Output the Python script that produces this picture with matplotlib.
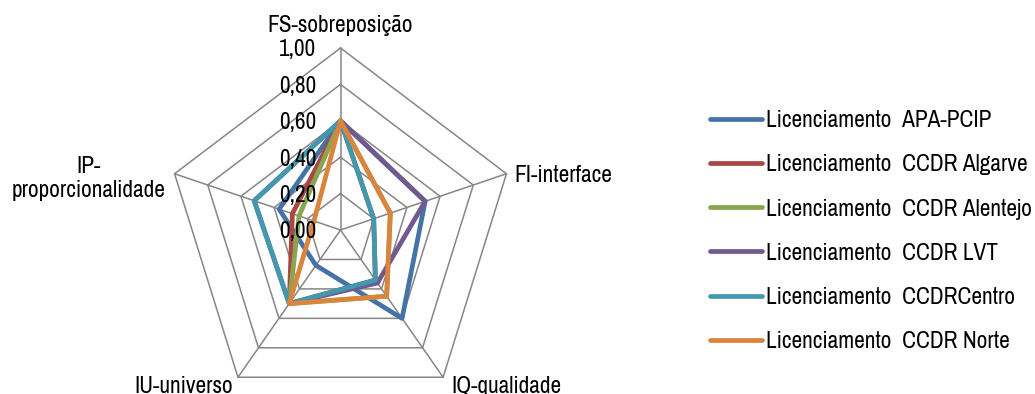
import matplotlib
matplotlib.use('Agg')
import matplotlib.pyplot as plt
from matplotlib import font_manager
import numpy as np

# Radar chart of licensing indicators (scale 0-1)
categories = ['FS-sobreposição', 'FI-interface', 'IQ-qualidade', 'IU-universo', 'IP-\nproporcionalidade']
series_names = ['Licenciamento  APA-PCIP', 'Licenciamento  CCDR Algarve', 'Licenciamento  CCDR Alentejo',
                'Licenciamento  CCDR LVT', 'Licenciamento  CCDRCentro', 'Licenciamento  CCDR Norte']
apa_pcip = [0.60, 0.51, 0.60, 0.24, 0.37]
ccdr_algarve = [0.60, 0.20, 0.34, 0.50, 0.29]
ccdr_alentejo = [0.60, 0.30, 0.45, 0.50, 0.25]
ccdr_lvt = [0.60, 0.51, 0.36, 0.50, 0.52]
ccdr_centro = [0.60, 0.20, 0.34, 0.50, 0.52]
ccdr_norte = [0.60, 0.30, 0.45, 0.50, 0.16]
scale_levels = [0.0, 0.2, 0.4, 0.6, 0.8, 1.0]
scale_labels = ['0,00', '0,20', '0,40', '0,60', '0,80', '1,00']

all_series = [apa_pcip, ccdr_algarve, ccdr_alentejo, ccdr_lvt, ccdr_centro, ccdr_norte]
colors = ['#4572A7', '#AA4643', '#89A54E', '#71588F', '#4198AF', '#DB843D']
grid_color = '#868686'

# narrow sans-serif, falling back to the regular one
installed = {f.name for f in font_manager.fontManager.ttflist}
narrow = [f for f in ['Liberation Sans Narrow', 'Arial Narrow', 'Archivo Narrow', 'Roboto Condensed']
          if f in installed]
if narrow:
    plt.rcParams['font.family'] = [narrow[0], 'DejaVu Sans']
    plt.rcParams['font.size'] = 16.8
else:
    plt.rcParams['font.family'] = ['Liberation Sans', 'DejaVu Sans']
    plt.rcParams['font.size'] = 14.5

fig = plt.figure(figsize=(10.35, 3.94), dpi=100)
ax = fig.add_axes([0.1604, -0.0457, 0.3372, 0.9239], projection='polar')
ax.set_aspect('auto')
ax.set_theta_zero_location('N')
ax.set_theta_direction(-1)
ax.set_ylim(0, 1)
ax.grid(False)
ax.set_xticks([])
ax.set_yticks([])
ax.spines['polar'].set_visible(False)
ax.patch.set_visible(False)

n = len(categories)
theta = np.arange(n) * 2 * np.pi / n
theta_closed = np.append(theta, theta[0])

# pentagon rings and spokes
for lv in scale_levels[1:]:
    ax.plot(theta_closed, [lv] * (n + 1), color=grid_color, lw=1.1, clip_on=False, zorder=1)
for t in theta:
    ax.plot([t, t], [0, 1], color=grid_color, lw=1.1, clip_on=False, zorder=1)

for vals, name, c in zip(all_series, series_names, colors):
    ax.plot(theta_closed, vals + vals[:1], color=c, lw=3.4, label=name,
            solid_joinstyle='round', solid_capstyle='round', clip_on=False, zorder=2)

# scale labels along the top spoke
for lv, lab in zip(scale_levels, scale_labels):
    ax.annotate(lab, xy=(0, lv), xytext=(-17.6, -6.1), textcoords='offset points',
                ha='right', va='baseline', zorder=5)

# category labels at the outer vertices
label_offsets = [(0, 11.3, 'center'), (6, -6, 'left'), (6, -11.7, 'left'),
                 (-3.8, -11.7, 'right'), (-6.5, -16.8, 'right')]
for t, cat, (dx, dy, ha) in zip(theta, categories, label_offsets):
    ax.annotate(cat, xy=(t, 1), xytext=(dx, dy), textcoords='offset points',
                ha=ha, va='baseline', multialignment='center', annotation_clip=False)

fig.legend(loc='upper left', bbox_to_anchor=(0.686, 0.72), frameon=False,
           handlelength=2.23, handletextpad=0.17, labelspacing=0.99,
           borderpad=0, borderaxespad=0)

fig.savefig('out.png', dpi=100, facecolor='white')
